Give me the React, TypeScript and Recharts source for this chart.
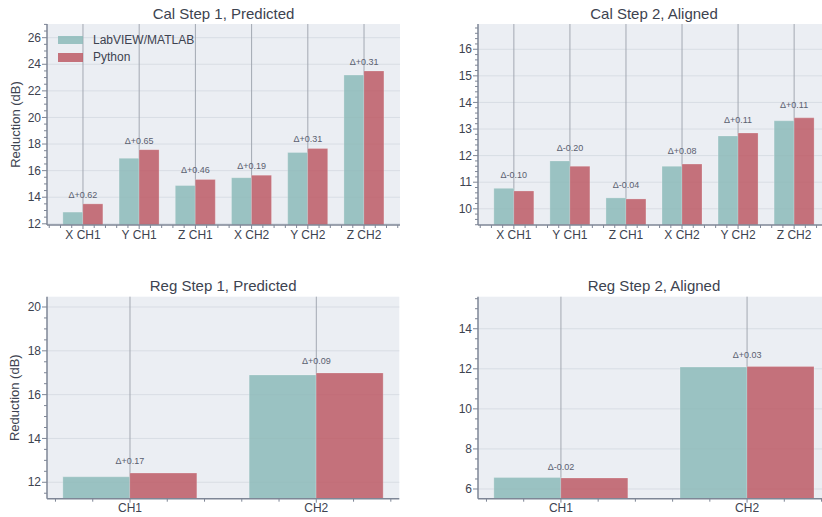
import React from 'react';
import {
  ComposedChart,
  Bar,
  Scatter,
  XAxis,
  YAxis,
  CartesianGrid,
  Legend,
} from 'recharts';

// ---------- data ----------
const seriesNames = ['LabVIEW/MATLAB', 'Python'];

const calCategories = ['X CH1', 'Y CH1', 'Z CH1', 'X CH2', 'Y CH2', 'Z CH2'];
const regCategories = ['CH1', 'CH2'];

const calStep1Labview = [12.88, 16.93, 14.88, 15.47, 17.36, 23.19];
const calStep1Python = [13.5, 17.58, 15.34, 15.66, 17.67, 23.5];
const calStep1Delta = ['Δ+0.62', 'Δ+0.65', 'Δ+0.46', 'Δ+0.19', 'Δ+0.31', 'Δ+0.31'];

const calStep2Labview = [10.77, 11.8, 10.41, 11.6, 12.74, 13.31];
const calStep2Python = [10.67, 11.6, 10.37, 11.68, 12.85, 13.42];
const calStep2Delta = ['Δ-0.10', 'Δ-0.20', 'Δ-0.04', 'Δ+0.08', 'Δ+0.11', 'Δ+0.11'];

const regStep1Labview = [12.25, 16.9];
const regStep1Python = [12.42, 16.99];
const regStep1Delta = ['Δ+0.17', 'Δ+0.09'];

const regStep2Labview = [6.57, 12.09];
const regStep2Python = [6.55, 12.12];
const regStep2Delta = ['Δ-0.02', 'Δ+0.03'];

const panelTitles = [
  'Cal Step 1, Predicted',
  'Cal Step 2, Aligned',
  'Reg Step 1, Predicted',
  'Reg Step 2, Aligned',
];
const yAxisTitle = 'Reduction (dB)';

// ---------- style ----------
const FONT = '"Liberation Sans", Arial, sans-serif';
const TEAL = '#8CBAB8';
const RED = '#BD5A65';
const BAR_OPACITY = 0.85;
const PLOT_BG = '#EBEEF3';
const GRID = '#D8DDE4';
const VGRID = '#A3A8B2';
const AXIS = '#7E8696';
const TEXT = '#3D4350';
const ANN = '#5A6070';
const ANN_OFFSET = 0.3;

const round = (v: number) => Math.round(v * 1000) / 1000;
const isMultiple = (v: number, step: number) =>
  Math.abs(v / step - Math.round(v / step)) < 1e-6;

function makeTicks(lo: number, hi: number, step: number) {
  const out: number[] = [];
  let v = Math.ceil(lo / step - 1e-9) * step;
  while (v <= hi + 1e-9) {
    out.push(round(v));
    v += step;
  }
  return out;
}

function buildRows(cats: string[], a: number[], b: number[], d: string[]) {
  return cats.map((c, i) => ({
    x: i,
    name: c,
    a: a[i],
    b: b[i],
    ann: Math.max(a[i], b[i]) + ANN_OFFSET,
    delta: d[i],
  }));
}

const XTick = (props: any) => {
  const { x, y, payload, categories } = props;
  const v = payload.value;
  const major = isMultiple(v, 1);
  return (
    <g>
      <line x1={x} x2={x} y1={y} y2={y + (major ? 4 : 3)} stroke={AXIS} strokeWidth={1} />
      {major && (
        <text
          x={x}
          y={y + 5}
          dy="0.71em"
          textAnchor="middle"
          fontSize={12}
          fontFamily={FONT}
          fill={TEXT}
        >
          {categories[Math.round(v)]}
        </text>
      )}
    </g>
  );
};

const YTick = (props: any) => {
  const { x, y, payload, majorStep } = props;
  const v = payload.value;
  const major = isMultiple(v, majorStep);
  return (
    <g>
      <line x1={x} x2={x - (major ? 5 : 3)} y1={y} y2={y} stroke={AXIS} strokeWidth={1} />
      {major && (
        <text
          x={x - 6}
          y={y}
          dy="0.35em"
          textAnchor="end"
          fontSize={12}
          fontFamily={FONT}
          fill={TEXT}
        >
          {String(Math.round(v))}
        </text>
      )}
    </g>
  );
};

const YLabel = (props: any) => {
  const vb = props.viewBox || { x: 0, y: 0, width: 0, height: 0 };
  const cx = vb.x + 15;
  const cy = vb.y + vb.height / 2;
  return (
    <text
      x={cx}
      y={cy}
      transform={`rotate(-90, ${cx}, ${cy})`}
      textAnchor="middle"
      dominantBaseline="central"
      fontSize={13}
      fontFamily={FONT}
      fill={TEXT}
    >
      {yAxisTitle}
    </text>
  );
};

const DeltaShape = (p: any) => {
  if (p.cx == null || p.cy == null) return <g />;
  return (
    <text
      x={p.cx}
      y={p.cy}
      dy={-2}
      textAnchor="middle"
      fontSize={9}
      fontFamily={FONT}
      fill={ANN}
    >
      {p.payload.delta}
    </text>
  );
};

const LegendBox = () => (
  <div style={{ fontFamily: FONT }}>
    {seriesNames.map((n, i) => (
      <div
        key={n}
        style={{ display: 'flex', alignItems: 'center', height: 17.5 }}
      >
        <span
          style={{
            display: 'inline-block',
            width: 25,
            height: 8.5,
            background: i === 0 ? TEAL : RED,
            opacity: BAR_OPACITY,
            marginRight: 10,
          }}
        />
        <span style={{ fontSize: 12, color: TEXT, lineHeight: '14px' }}>{n}</span>
      </div>
    ))}
  </div>
);

type PanelProps = {
  left: number;
  top: number;
  width: number;
  height: number;
  margin: { top: number; right: number; bottom: number; left: number };
  yAxisWidth: number;
  xAxisHeight: number;
  xDomain: [number, number];
  yDomain: [number, number];
  yMajor: number;
  yMinor: number;
  barSize: number;
  categories: string[];
  rows: any[];
  showYLabel: boolean;
  showLegend: boolean;
  title: string;
  titleY: number;
};

const Panel = (p: PanelProps) => {
  const xTicks = makeTicks(p.xDomain[0], p.xDomain[1], 0.2);
  const yTicks = makeTicks(p.yDomain[0], p.yDomain[1], p.yMinor);
  const yMajors = yTicks.filter((v) => isMultiple(v, p.yMajor));
  const xMajors = p.categories.map((_, i) => i);
  const plotLeft = p.margin.left + p.yAxisWidth;
  const plotWidth = p.width - plotLeft - p.margin.right;
  return (
    <div style={{ position: 'absolute', left: p.left, top: p.top, width: p.width, height: p.height }}>
      <div
        style={{
          position: 'absolute',
          left: plotLeft,
          width: plotWidth,
          top: p.titleY - 9,
          height: 18,
          lineHeight: '18px',
          textAlign: 'center',
          fontFamily: FONT,
          fontSize: 15,
          color: TEXT,
          whiteSpace: 'nowrap',
        }}
      >
        {p.title}
      </div>
      <ComposedChart
        width={p.width}
        height={p.height}
        data={p.rows}
        margin={p.margin}
        barGap={0}
      >
        <CartesianGrid
          vertical={false}
          horizontalValues={yMajors}
          stroke={GRID}
          strokeWidth={1}
          fill={PLOT_BG}
          fillOpacity={1}
        />
        <CartesianGrid
          horizontal={false}
          verticalValues={xMajors}
          stroke={VGRID}
          strokeWidth={1}
        />
        <XAxis
          type="number"
          dataKey="x"
          domain={p.xDomain}
          allowDataOverflow
          ticks={xTicks}
          interval={0}
          tickLine={false}
          tickSize={0}
          tickMargin={0}
          height={p.xAxisHeight}
          axisLine={{ stroke: AXIS, strokeWidth: 1.5 }}
          tick={(tp: any) => <XTick {...tp} categories={p.categories} />}
        />
        <YAxis
          type="number"
          domain={p.yDomain}
          allowDataOverflow
          ticks={yTicks}
          interval={0}
          width={p.yAxisWidth}
          tickLine={false}
          tickSize={0}
          tickMargin={0}
          axisLine={{ stroke: AXIS, strokeWidth: 1.5 }}
          tick={(tp: any) => <YTick {...tp} majorStep={p.yMajor} />}
          label={p.showYLabel ? <YLabel /> : undefined}
        />
        <Bar
          dataKey="a"
          name={seriesNames[0]}
          fill={TEAL}
          fillOpacity={BAR_OPACITY}
          stroke="#ffffff"
          strokeOpacity={0.45}
          strokeWidth={0.5}
          barSize={p.barSize}
          isAnimationActive={false}
        />
        <Bar
          dataKey="b"
          name={seriesNames[1]}
          fill={RED}
          fillOpacity={BAR_OPACITY}
          stroke="#ffffff"
          strokeOpacity={0.45}
          strokeWidth={0.5}
          barSize={p.barSize}
          isAnimationActive={false}
        />
        <Scatter
          dataKey="ann"
          legendType="none"
          shape={DeltaShape}
          isAnimationActive={false}
        />
        {p.showLegend && (
          <Legend
            layout="vertical"
            align="center"
            verticalAlign="middle"
            wrapperStyle={{ left: 58, top: 31, width: 'auto', height: 'auto' }}
            content={() => <LegendBox />}
          />
        )}
      </ComposedChart>
    </div>
  );
};

export default function App() {
  const cal1 = buildRows(calCategories, calStep1Labview, calStep1Python, calStep1Delta);
  const cal2 = buildRows(calCategories, calStep2Labview, calStep2Python, calStep2Delta);
  const reg1 = buildRows(regCategories, regStep1Labview, regStep1Python, regStep1Delta);
  const reg2 = buildRows(regCategories, regStep2Labview, regStep2Python, regStep2Delta);
  return (
    <div
      style={{
        position: 'absolute',
        left: 0,
        top: 0,
        width: 822,
        height: 517,
        overflow: 'hidden',
        background: '#ffffff',
      }}
    >
      <Panel
        left={0}
        top={0}
        width={410}
        height={260}
        margin={{ top: 24, right: 10, bottom: 4, left: 0 }}
        yAxisWidth={47}
        xAxisHeight={31}
        xDomain={[-0.64, 5.64]}
        yDomain={[11.91, 27.03]}
        yMajor={2}
        yMinor={0.5}
        barSize={20}
        categories={calCategories}
        rows={cal1}
        showYLabel
        showLegend
        title={panelTitles[0]}
        titleY={14}
      />
      <Panel
        left={410}
        top={0}
        width={430}
        height={260}
        margin={{ top: 24, right: 10, bottom: 4, left: 0 }}
        yAxisWidth={68}
        xAxisHeight={31}
        xDomain={[-0.64, 5.64]}
        yDomain={[9.39, 16.95]}
        yMajor={1}
        yMinor={0.2}
        barSize={20}
        categories={calCategories}
        rows={cal2}
        showYLabel={false}
        showLegend={false}
        title={panelTitles[1]}
        titleY={14}
      />
      <Panel
        left={0}
        top={270}
        width={410}
        height={250}
        margin={{ top: 26.7, right: 10.7, bottom: 1.3, left: 0 }}
        yAxisWidth={47}
        xAxisHeight={20}
        xDomain={[-0.4455, 1.4455]}
        yDomain={[11.25, 20.47]}
        yMajor={2}
        yMinor={0.5}
        barSize={67}
        categories={regCategories}
        rows={reg1}
        showYLabel
        showLegend={false}
        title={panelTitles[2]}
        titleY={16}
      />
      <Panel
        left={410}
        top={270}
        width={430}
        height={250}
        margin={{ top: 26.7, right: 10, bottom: 1.3, left: 0 }}
        yAxisWidth={68}
        xAxisHeight={20}
        xDomain={[-0.4455, 1.4455]}
        yDomain={[5.515, 15.6]}
        yMajor={2}
        yMinor={0.5}
        barSize={67}
        categories={regCategories}
        rows={reg2}
        showYLabel={false}
        showLegend={false}
        title={panelTitles[3]}
        titleY={16}
      />
    </div>
  );
}
